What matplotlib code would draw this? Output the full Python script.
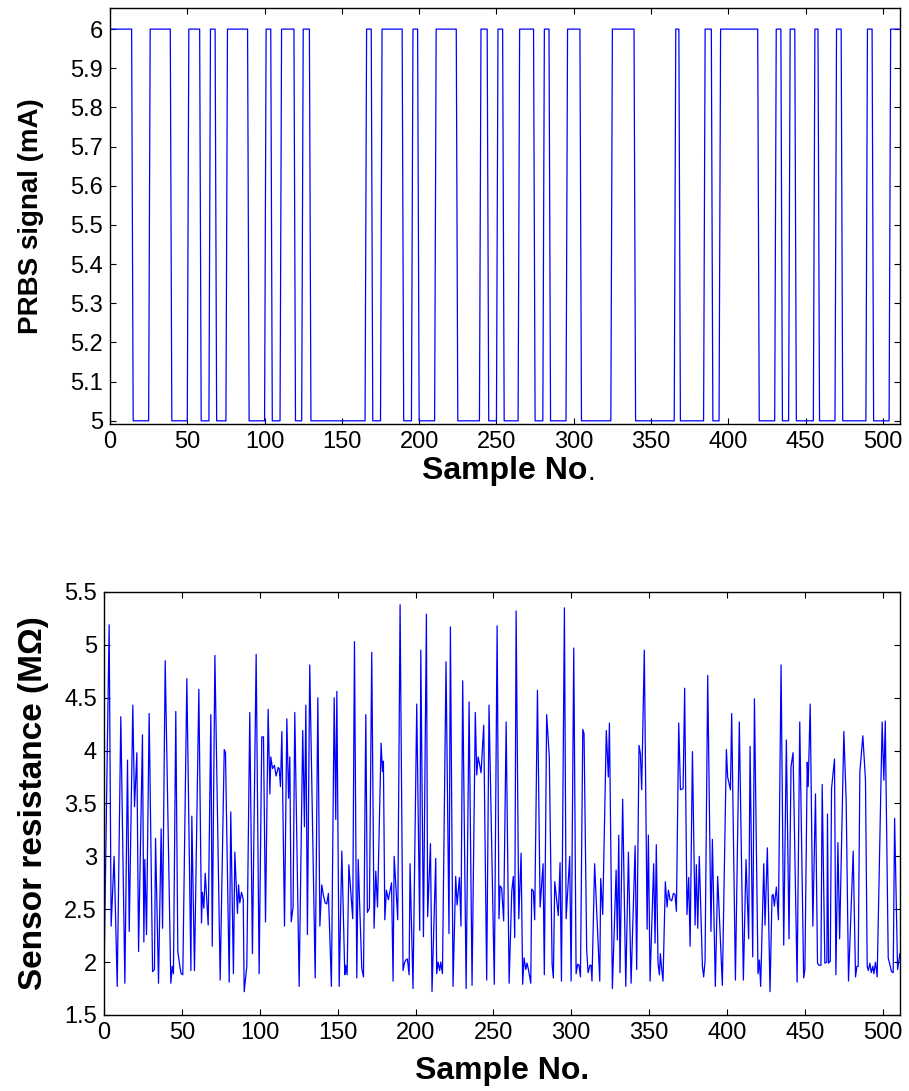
import numpy as np
import matplotlib
matplotlib.use('Agg')
import matplotlib.pyplot as plt
from matplotlib.ticker import FormatStrFormatter, MultipleLocator

plt.rcParams['font.family'] = ['Liberation Sans', 'DejaVu Sans']

# PRBS: sample numbers where the level flips, starting at the high level
prbs_high = 6.0
prbs_low = 5.0
prbs_switch = [15, 26, 40, 51, 59, 65, 69, 76, 90, 101, 105, 111, 120, 125, 130,
               166, 170, 176, 190, 196, 200, 211, 225, 240, 245, 251, 255, 265,
               275, 281, 285, 296, 305, 325, 340, 366, 369, 385, 390, 395, 420,
               431, 435, 440, 444, 456, 459, 470, 474, 490, 494, 505]
n_samples = 512

# sensor resistance (MOhm), vertices
res_sample = [
    0, 3.3, 4.6, 6.5, 8.5, 10.8, 13.4, 15.1, 16.2, 18.5, 19.6, 21.1, 22.2, 24.7, 25.6, 26.2,
    27.3, 29.0, 31.2, 32.4, 33.1, 35.0, 36.7, 37.6, 39.3, 42.9, 43.8, 44.6, 46.1, 47.4, 48.9,
    49.5, 50.6, 53.2, 55.8, 56.4, 58.1, 60.9, 62.6, 63.2, 64.1, 65.0,
    66.9, 68.6, 69.5, 71.2, 74.6, 77.2, 78.0, 80.4, 81.4, 83.1, 84.0, 85.7, 86.4, 87.2, 88.3,
    89.4, 90.0, 91.7, 93.6, 95.3, 97.7, 99.6, 101.3, 102.4, 103.7, 105.4, 106.5, 107.1, 108.2,
    109.4, 110.5, 111.8, 112.5, 113.3, 114.2, 115.9, 117.4, 118.5, 119.3, 120.2, 121.4, 122.5,
    125.3, 127.6, 128.7,
    129.6, 130.6, 132.1, 135.6, 137.3, 138.6, 139.8, 140.9, 142.0, 143.0, 144.1, 146.0, 147.8,
    148.8, 149.5, 151.0, 152.7, 154.6, 155.2, 156.1, 157.2, 159.7, 160.8, 162.3, 163.2, 165.5,
    166.6, 168.1, 169.1, 170.4, 171.9, 173.4, 174.5, 175.6, 177.9, 178.8, 179.4, 180.3, 181.3,
    182.6, 184.6, 185.6, 186.3, 188.6, 190.1, 192.0, 192.9,
    193.8, 194.8, 195.9, 196.5, 198.4, 200.8, 202.7, 203.4, 205.1, 207.0, 207.8, 209.6, 210.6,
    213.0, 213.6, 214.5, 215.5, 216.2, 217.3, 219.6, 221.5, 222.4, 224.1, 225.8, 226.7, 228.2,
    229.2, 230.3, 232.5, 234.4, 236.3, 238.4, 239.3, 240.2, 241.0, 242.1, 243.8, 245.7, 247.2,
    250.6, 252.4, 253.6, 254.3, 255.3, 256.6,
    258.2, 260.1, 261.8, 262.8, 263.7, 264.6, 266.3, 267.8, 268.8, 269.7, 270.8, 271.6, 272.5,
    274.0, 274.6, 275.7, 276.5, 278.3, 280.0, 281.9, 282.7, 284.2, 285.9, 287.7, 288.5, 289.4,
    291.7, 292.8, 293.7, 295.6, 296.7, 299.0, 299.9, 301.6, 303.1, 304.1, 305.0, 305.9, 307.4,
    308.2, 309.9, 310.8, 312.0, 312.7, 313.3, 315.0, 318.3, 318.9, 320.2,
    322.5, 323.8, 324.5, 326.4, 328.8, 329.6, 330.5, 331.3, 333.0, 335.0, 336.7, 338.4, 341.0,
    342.0, 343.5, 344.4, 345.2, 346.9, 348.7, 349.5, 350.6, 352.9, 353.8, 354.6, 355.7, 356.6,
    357.2, 357.9, 358.9, 360.4, 361.5, 362.4, 363.4, 364.5, 365.6, 366.6, 367.5, 369.0, 370.1,
    371.8, 372.8, 374.3, 375.4, 376.3, 377.8, 379.5, 380.3, 381.2, 382.2, 384.2, 385.0,
    385.9, 387.6, 389.7, 390.6, 392.5, 394.0, 397.0, 399.6, 400.4, 402.2, 403.0, 405.4, 407.9,
    410.5, 412.2, 413.9, 414.8, 416.5, 417.6, 419.9, 420.8, 421.6, 423.6, 424.4, 425.9, 427.6,
    428.9, 429.6, 430.4, 431.7, 433.0, 434.7, 436.4, 438.1, 439.8, 441.1, 442.4, 445.0, 446.7,
    449.2,
    450.0, 451.5, 452.1, 453.4, 455.1, 456.8, 458.1, 459.0, 460.3, 461.1, 462.8, 464.1, 464.5,
    465.2, 466.3, 467.1, 469.0, 469.9, 471.2, 472.3, 475.0, 476.5, 478.0, 481.0, 482.5, 483.4,
    484.2, 485.3, 487.2, 488.9, 490.0, 490.7, 491.7, 492.6, 493.6, 494.3, 495.3, 496.4, 499.6,
    500.7, 501.6, 503.5, 505.6, 506.7, 507.6, 509.5, 511.0]

res_value = [
    1.85, 5.19, 2.34, 3.00, 1.77, 4.32, 1.80, 3.91, 2.29, 4.43, 3.47, 3.98, 2.10, 4.15, 2.19, 2.97,
    2.26, 4.35, 1.91, 1.93, 3.17, 1.80, 3.26, 2.32, 4.85, 1.80, 1.96, 1.89, 4.37, 2.10, 1.94,
    1.89, 1.88, 4.68, 1.92, 3.38, 1.92, 4.58, 2.37, 2.66, 2.51, 2.84,
    2.35, 4.34, 2.15, 4.90, 1.83, 4.01, 3.98, 1.81, 3.42, 1.89, 3.04, 2.46, 2.73, 2.56, 2.66,
    2.59, 1.72, 1.96, 4.36, 2.08, 4.91, 1.89, 4.13, 4.13, 2.38, 4.39, 3.59, 3.94, 3.83,
    3.86, 3.76, 3.84, 3.83, 3.66, 4.18, 2.34, 4.30, 3.55, 3.94, 2.38, 2.52, 4.36,
    1.77, 4.19, 3.28,
    4.43, 2.26, 4.81, 1.85, 4.50, 2.34, 2.73, 2.63, 2.56, 2.55, 2.65, 1.77, 4.50,
    3.35, 4.56, 1.77, 3.05, 1.88, 1.97, 1.88, 2.92, 2.41, 5.03, 1.85, 2.97, 1.94,
    1.86, 4.34, 2.47, 2.51, 4.93, 2.32, 2.86, 2.52, 4.07, 3.80, 3.90, 2.40, 2.68,
    2.59, 2.75, 1.82, 3.00, 2.40, 5.38, 1.92, 1.99,
    2.02, 2.03, 1.88, 2.93, 1.75, 4.44, 2.30, 4.95, 2.24, 5.29, 2.43, 3.12, 1.72,
    2.98, 1.89, 2.00, 1.92, 2.00, 1.89, 4.84, 2.27, 5.17, 1.77, 2.81, 2.54, 2.80,
    2.34, 4.66, 1.75, 4.46, 1.78, 4.36, 3.77, 3.94, 3.88, 3.79, 4.24, 1.83, 4.43,
    1.79, 5.18, 2.41, 2.72, 2.70, 2.39,
    4.27, 1.80, 2.67, 2.81, 2.23, 5.32, 2.41, 3.03, 1.79, 2.04, 1.93, 1.99, 1.93,
    1.80, 2.69, 2.67, 2.40, 4.57, 2.52, 2.93, 1.88, 4.34, 3.94, 1.98, 1.85, 2.76,
    2.44, 2.94, 1.82, 5.35, 2.41, 3.00, 1.82, 4.97, 1.89, 1.98, 1.97, 1.86, 4.20,
    4.16, 2.12, 1.90, 1.97, 1.97, 1.82, 2.93, 1.82, 2.79, 2.45,
    4.19, 3.75, 4.26, 1.75, 2.87, 2.21, 3.20, 1.90, 3.54, 1.77, 3.04, 1.80, 3.10,
    1.93, 4.05, 3.97, 3.63, 4.95, 2.31, 3.20, 1.82, 2.93, 2.18, 3.11, 1.99, 1.88,
    2.08, 1.96, 1.82, 2.76, 2.52, 2.68, 2.59, 2.58, 2.65, 2.64, 2.48, 4.26, 3.63,
    3.64, 4.59, 2.45, 2.80, 2.15, 3.99, 2.35, 2.92, 2.32, 3.00, 1.96, 1.86,
    2.01, 4.71, 2.29, 3.16, 1.77, 2.81, 1.78, 4.01, 3.75, 3.63, 4.35, 1.83, 4.27,
    1.83, 2.97, 2.22, 4.04, 2.05, 4.49, 1.89, 2.02, 1.77, 2.93, 2.35, 3.08, 1.72,
    2.63, 2.64, 2.53, 2.71, 2.40, 4.81, 2.16, 4.10, 2.22, 3.85, 3.98, 1.81, 4.27,
    1.85,
    1.93, 3.89, 3.66, 4.44, 2.34, 3.59, 1.99, 1.97, 1.97, 3.68, 1.99, 2.00, 3.40,
    1.99, 2.01, 3.64, 3.92, 1.88, 3.13, 2.22, 4.18, 3.53, 1.82, 3.05, 1.86, 1.96,
    1.96, 3.80, 4.14, 3.72, 1.96, 1.92, 1.99, 1.90, 1.96, 1.89, 2.00, 1.86, 4.27,
    3.72, 4.28, 2.04, 1.91, 1.90, 3.36, 1.93, 2.08]

# build the PRBS level for every sample
samples = np.arange(n_samples)
flips = np.searchsorted(prbs_switch, samples, side='right')
prbs = np.where(flips % 2 == 0, prbs_high, prbs_low)

fig = plt.figure(figsize=(9.09, 10.91), dpi=100)
ax1 = fig.add_axes([0.121, 0.6114, 0.869, 0.3813])
ax2 = fig.add_axes([0.1144, 0.0697, 0.8756, 0.3877])

ax1.plot(samples, prbs, color='#0000ff', lw=0.9)
ax1.set_xlim(0, 511)
ax1.set_ylim(4.992, 6.054)
ax1.set_yticks(np.arange(5.0, 6.01, 0.1))
ax1.yaxis.set_major_formatter(FormatStrFormatter('%g'))
ax1.set_ylabel('PRBS signal (mA)', fontsize=20, fontweight='bold', labelpad=19)
ax1.set_xlabel('Sample No', fontsize=23, fontweight='bold', labelpad=2)
ax1.annotate('.', xy=(1, 0), xycoords=ax1.xaxis.label, fontsize=20,
             ha='left', va='bottom')

ax2.plot(res_sample, res_value, color='#0000ff', lw=0.9)
ax2.set_xlim(0, 511)
ax2.set_ylim(1.5, 5.5)
ax2.yaxis.set_major_locator(MultipleLocator(0.5))
ax2.yaxis.set_major_formatter(FormatStrFormatter('%g'))
ax2.set_ylabel('Sensor resistance (M\u03a9)', fontsize=24, fontweight='bold', labelpad=11)
ax2.set_xlabel('Sample No.', fontsize=23, fontweight='bold', labelpad=9)

for ax in (ax1, ax2):
    ax.xaxis.set_major_locator(MultipleLocator(50))
    ax.tick_params(direction='in', top=True, right=True, labelsize=17,
                   length=4, width=0.8, pad=5)
    for sp in ax.spines.values():
        sp.set_linewidth(1.0)

fig.savefig('out.png', dpi=100)
